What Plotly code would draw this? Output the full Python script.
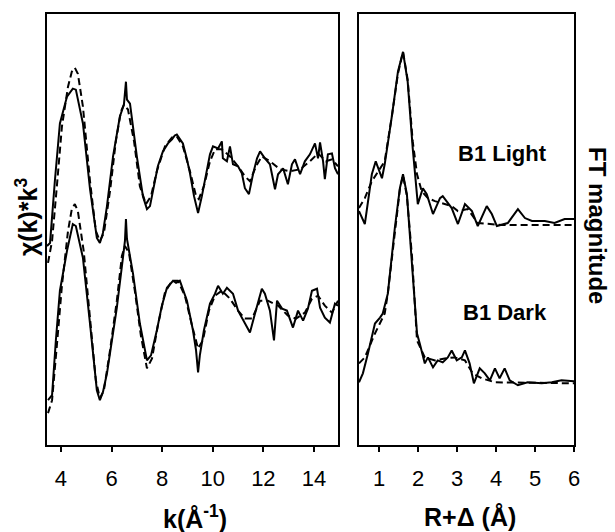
import plotly.graph_objects as go

# ---------------- EXAFS (k-space), arbitrary units ----------------
light_offset = 27.7
dark_offset = 14.0

k_light_exp = [3.45, 3.57, 3.76, 3.96, 4.24, 4.47, 4.59, 4.87, 5.15, 5.42, 5.54, 5.66, 5.82, 6.06,
               6.33, 6.49, 6.57, 6.61, 6.73, 7.00, 7.24, 7.40, 7.52, 7.64, 7.83, 8.03, 8.23, 8.39,
               8.50, 8.58, 8.70, 8.82, 8.98, 9.10, 9.26, 9.42, 9.57, 9.77, 9.89, 10.01, 10.21,
               10.36, 10.40, 10.56, 10.68, 10.80, 11.00, 11.15, 11.27, 11.43, 11.59, 11.75, 11.87,
               12.06, 12.26, 12.46, 12.58, 12.78, 12.97, 13.13, 13.25, 13.45, 13.64, 13.84, 14.04,
               14.16, 14.24, 14.36, 14.43, 14.55, 14.71, 14.83, 14.95]
chi_light_exp = [-7.7, -7.4, -1.2, 4.6, 7.3, 8.1, 8.0, 4.6, -2.0, -6.9, -7.4, -6.4, -3.7, 1.3,
                 5.3, 6.5, 8.8, 7.0, 6.6, 1.3, -2.7, -4.0, -3.7, -2.0, 0.3, 1.8, 2.6, 3.0,
                 3.4, 3.5, 3.1, 2.6, 1.0, -0.4, -2.7, -4.4, -2.7, -0.2, 1.5, 2.3, 2.1,
                 2.8, 1.1, 0.8, 2.3, 0.5, 0.3, -0.4, -1.9, -2.5, -0.5, 1.1, 1.8,
                 1.1, 0.5, -2.0, -0.5, 0.1, -1.5, 0.5, 1.0, -0.5, 0.8, 1.5, 2.6,
                 1.1, 2.7, 0.8, -1.0, 1.5, 1.6, 0.1, -0.5]

k_light_fit = [3.49, 3.65, 3.84, 4.04, 4.28, 4.43, 4.55, 4.67, 4.87, 5.15, 5.38, 5.54, 5.70, 5.94,
               6.17, 6.37, 6.49, 6.65, 6.89, 7.12, 7.36, 7.56, 7.79, 8.11, 8.39, 8.58, 8.82, 9.10,
               9.34, 9.45, 9.65, 9.89, 10.09, 10.36, 10.68, 11.00, 11.27, 11.47, 11.71, 11.94,
               12.26, 12.66, 13.05, 13.45, 13.84, 14.16, 14.47, 14.71, 14.95]
chi_light_fit = [-9.4, -7.2, -1.7, 4.3, 8.3, 9.8, 10.2, 9.6, 6.3, -1.2, -6.2, -7.2, -6.4, -2.2,
                 2.8, 5.8, 6.5, 6.0, 2.8, -1.7, -3.5, -2.7, -0.2, 2.3, 3.2, 3.3, 2.3, -0.2,
                 -2.7, -3.0, -1.7, 0.8, 2.0, 2.0, 1.3, 0.3, -0.7, -1.2, 0.3, 1.3,
                 0.8, 0.0, -0.2, 0.0, 0.8, 1.6, 0.8, 1.0, 0.3]

k_dark_exp = [3.49, 3.65, 3.80, 3.96, 4.24, 4.47, 4.59, 4.87, 5.15, 5.42, 5.54, 5.66, 5.82, 6.21,
              6.45, 6.53, 6.57, 6.61, 6.85, 7.12, 7.40, 7.56, 7.79, 7.99, 8.19, 8.43, 8.55, 8.70,
              8.98, 9.22, 9.34, 9.42, 9.49, 9.65, 9.89, 10.09, 10.21, 10.40, 10.56, 10.80, 11.00,
              11.27, 11.47, 11.67, 11.94, 12.06, 12.26, 12.42, 12.54, 12.74, 12.93, 13.17, 13.37,
              13.57, 13.76, 13.92, 14.12, 14.24, 14.43, 14.63, 14.83, 14.95]
chi_dark_exp = [-9.5, -9.0, -3.5, 1.5, 5.5, 8.2, 8.0, 4.8, -1.8, -8.5, -9.5, -8.7, -6.8, -0.2,
                4.8, 6.5, 8.7, 6.7, 3.2, -1.8, -5.5, -5.0, -2.5, 0.0, 1.8, 2.5, 2.3, 2.5,
                0.5, -2.5, -4.5, -6.7, -5.0, -2.5, 0.2, 1.2, 2.0, 1.2, 1.8, 1.2, -0.5,
                -1.8, -2.7, -0.8, 1.7, 1.2, -0.5, -3.5, 0.5, -0.3, -0.5, -2.2, -0.5,
                -1.5, -0.3, 1.5, 1.7, -0.2, -1.2, -1.7, 0.2, 0.0]

k_dark_fit = [3.49, 3.65, 3.84, 4.04, 4.28, 4.43, 4.55, 4.67, 4.90, 5.15, 5.38, 5.54, 5.70, 5.94,
              6.21, 6.41, 6.53, 6.69, 6.92, 7.16, 7.40, 7.60, 7.83, 8.11, 8.39, 8.62, 8.90, 9.18,
              9.42, 9.61, 9.85, 10.09, 10.36, 10.68, 11.00, 11.27, 11.55, 11.87, 12.18, 12.58,
              12.97, 13.29, 13.64, 13.92, 14.16, 14.43, 14.71, 14.95]
chi_dark_fit = [-10.8, -9.5, -4.0, 2.0, 7.5, 9.7, 10.2, 9.5, 5.5, -1.3, -7.5, -9.3, -8.5, -4.5,
                0.5, 5.0, 6.0, 5.3, 1.5, -3.0, -6.3, -5.3, -2.0, 1.3, 2.5, 2.5, 1.0, -2.0,
                -4.3, -3.5, -0.5, 1.0, 1.5, 0.7, -0.5, -1.3, -1.3, 0.5, 0.5, 0.0,
                -1.0, -1.3, -0.7, 0.7, 1.0, 0.0, -0.7, 0.5]

# ---------------- Fourier transforms (R-space) ----------------
ft_light_offset = 22.2
ft_dark_offset = 6.2

r_light_exp = [0.48, 0.63, 0.81, 0.91, 1.07, 1.14, 1.33, 1.48, 1.61, 1.73, 1.86, 1.97, 1.99, 2.12,
               2.22, 2.38, 2.56, 2.63, 2.86, 3.02, 3.20, 3.38, 3.53, 3.76, 3.89, 4.02, 4.30, 4.56,
               4.74, 4.92, 5.25, 5.50, 5.76, 6.0]
ft_light_exp = [1.3, 0.0, 5.0, 6.3, 4.6, 6.0, 11.0, 15.3, 17.3, 14.3, 7.6, 2.6, 2.0, 3.6,
                3.0, 1.0, 2.6, 2.8, 1.6, 0.0, 2.0, 1.3, -0.2, 1.8, 1.0, -0.2, 0.1, 1.5,
                0.6, 0.3, 0.3, 0.1, 0.5, 0.5]

r_light_fit = [0.48, 0.63, 0.81, 0.97, 1.14, 1.33, 1.48, 1.61, 1.73, 1.86, 1.97, 2.09, 2.25, 2.43,
               2.61, 2.86, 3.02, 3.27, 3.53, 3.79, 4.15, 6.0]
ft_light_fit = [1.6, 2.6, 4.3, 5.3, 6.3, 11.0, 15.1, 17.3, 14.5, 8.3, 5.0, 3.3, 2.6, 2.3,
                2.1, 1.8, 1.3, 1.5, 0.1, 0.0, -0.1, -0.1]

r_dark_exp = [0.48, 0.58, 0.71, 0.89, 1.02, 1.09, 1.22, 1.40, 1.53, 1.61, 1.71, 1.84, 1.97, 2.04,
              2.17, 2.25, 2.38, 2.50, 2.63, 2.76, 2.86, 2.99, 3.12, 3.20, 3.32, 3.43, 3.58, 3.71,
              3.84, 3.97, 4.09, 4.22, 4.35, 4.56, 4.81, 5.17, 5.43, 5.68, 6.0]
ft_dark_exp = [0.1, 1.0, 3.0, 6.0, 6.6, 7.0, 9.0, 15.6, 19.6, 21.0, 19.0, 12.3, 5.0, 4.0,
               2.0, 2.6, 1.6, 2.3, 2.1, 2.6, 3.3, 2.3, 2.6, 3.3, 2.0, 0.0, 1.5, 1.0,
               0.3, 1.5, 0.5, 1.5, 0.3, -0.2, 0.1, 0.0, 0.1, 0.3, 0.2]

r_dark_fit = [0.48, 0.63, 0.89, 1.14, 1.22, 1.40, 1.53, 1.61, 1.71, 1.84, 1.97, 2.17, 2.43, 2.68,
              2.94, 3.20, 3.40, 3.63, 3.97, 6.0]
ft_dark_fit = [2.0, 2.6, 5.0, 7.0, 9.0, 15.3, 19.5, 20.9, 18.8, 12.8, 4.3, 2.6, 2.3, 2.5,
               2.6, 2.3, 1.0, 0.5, 0.1, 0.0]

x_ticks_k = [4, 6, 8, 10, 12, 14]
x_ticks_r = [1, 2, 3, 4, 5, 6]

FONT = "Liberation Sans, Arial, sans-serif"
solid = dict(color="black", width=2)
dashed = dict(color="black", width=2, dash="7px,4px")

fig = go.Figure()


def add(x, y, off, line, xa, ya):
    fig.add_trace(go.Scatter(x=x, y=[v + off for v in y], mode="lines", line=line,
                             xaxis=xa, yaxis=ya, showlegend=False, hoverinfo="skip"))


add(k_light_fit, chi_light_fit, light_offset, dashed, "x", "y")
add(k_light_exp, chi_light_exp, light_offset, solid, "x", "y")
add(k_dark_fit, chi_dark_fit, dark_offset, dashed, "x", "y")
add(k_dark_exp, chi_dark_exp, dark_offset, solid, "x", "y")

add(r_light_fit, ft_light_fit, ft_light_offset, dashed, "x2", "y2")
add(r_light_exp, ft_light_exp, ft_light_offset, solid, "x2", "y2")
add(r_dark_fit, ft_dark_fit, ft_dark_offset, dashed, "x2", "y2")
add(r_dark_exp, ft_dark_exp, ft_dark_offset, solid, "x2", "y2")

xcommon = dict(showline=True, linecolor="black", linewidth=1.5, mirror=True,
               ticks="outside", ticklen=5, tickwidth=1.5, tickcolor="black",
               showgrid=False, zeroline=False, ticklabelstandoff=8,
               tickfont=dict(family=FONT, size=22, color="black"))
ycommon = dict(showline=True, linecolor="black", linewidth=1.5, mirror=True,
               ticks="", showticklabels=False, showgrid=False, zeroline=False,
               range=[0, 43.3])

fig.update_layout(
    width=615, height=532,
    margin=dict(l=47, r=41, t=12, b=87),
    paper_bgcolor="white", plot_bgcolor="white",
    xaxis=dict(domain=[0, 0.5522], range=[3.45, 14.95], tickvals=x_ticks_k, **xcommon),
    xaxis2=dict(domain=[0.592, 1.0], range=[0.48, 6.0], tickvals=x_ticks_r, anchor="y2", **xcommon),
    yaxis=dict(anchor="x", **ycommon),
    yaxis2=dict(anchor="x2", **ycommon),
    font=dict(family=FONT, color="black"),
)

bold = dict(family=FONT, size=25, color="black")
fig.add_annotation(text="<b>k(Å<sup>-1</sup>)</b>", xref="paper", yref="paper", x=0.281, y=-0.166,
                   showarrow=False, font=bold, xanchor="center", yanchor="middle")
fig.add_annotation(text="<b>R+Δ (Å)</b>", xref="paper", yref="paper", x=0.803, y=-0.166,
                   showarrow=False, font=bold, xanchor="center", yanchor="middle")
fig.add_annotation(text="<b>χ(k)*k<sup>3</sup></b>", xref="paper", yref="paper", x=-0.038, y=0.531,
                   showarrow=False, font=bold, textangle=-90, xanchor="center", yanchor="middle")
fig.add_annotation(text="<b>FT magnitude</b>", xref="paper", yref="paper", x=1.0455, y=0.508,
                   showarrow=False, font=dict(family=FONT, size=24, color="black"),
                   textangle=90, xanchor="center", yanchor="middle")
fig.add_annotation(text="<b>B1 Light</b>", xref="x2", yref="y2", x=4.17, y=29.3,
                   showarrow=False, font=dict(family=FONT, size=22, color="black"))
fig.add_annotation(text="<b>B1 Dark</b>", xref="x2", yref="y2", x=4.22, y=13.3,
                   showarrow=False, font=dict(family=FONT, size=22, color="black"))

fig.write_html("out.html")
